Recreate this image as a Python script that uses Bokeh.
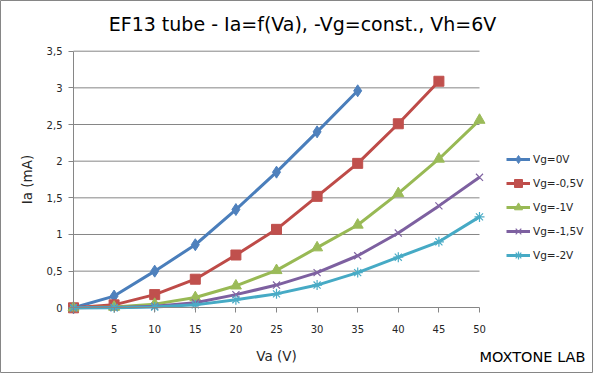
from bokeh.plotting import figure
from bokeh.models import Range1d, FixedTicker, Legend, LegendItem, Label
from bokeh.embed import file_html
from bokeh.resources import INLINE

# ---- data ----
va = [0, 5, 10, 15, 20, 25, 30, 35, 40, 45, 50]
ia_vg0 = [0, 0.16, 0.50, 0.86, 1.34, 1.85, 2.40, 2.96]
ia_vg05 = [0, 0.04, 0.18, 0.39, 0.72, 1.07, 1.52, 1.97, 2.51, 3.09]
ia_vg1 = [0, 0.01, 0.05, 0.14, 0.30, 0.51, 0.82, 1.13, 1.56, 2.03, 2.56]
ia_vg15 = [0, 0.005, 0.02, 0.07, 0.18, 0.31, 0.48, 0.71, 1.02, 1.39, 1.78]
ia_vg2 = [0, 0.0, 0.01, 0.04, 0.11, 0.19, 0.31, 0.48, 0.69, 0.90, 1.24]
series_names = ["Vg=0V", "Vg=-0,5V", "Vg=-1V", "Vg=-1,5V", "Vg=-2V"]

x_ticks = [0, 5, 10, 15, 20, 25, 30, 35, 40, 45, 50]
x_tick_labels = ["", "5", "10", "15", "20", "25", "30", "35", "40", "45", "50"]
y_ticks = [0, 0.5, 1, 1.5, 2, 2.5, 3, 3.5]
y_tick_labels = ["0", "0,5", "1", "1,5", "2", "2,5", "3", "3,5"]

title_text = "EF13 tube - Ia=f(Va), -Vg=const., Vh=6V"
x_title = "Va (V)"
y_title = "Ia (mA)"
credit = "MOXTONE LAB"

FONT = "DejaVu Sans"
GRID = "#868686"
TXT = "#262626"

W, H = 593, 373
# plot area in pixels: x 0..50 -> 73..479, y 0..3.5 -> 307.3..50.7
X0, X1 = 73.0, 479.0
Y0, Y1 = 307.3, 50.7
XPX = (X1 - X0) / 50.0
YPX = (Y0 - Y1) / 3.5

p = figure(width=W, height=H, output_backend="svg", toolbar_location=None, title=None,
           x_range=Range1d(-X0 / XPX, 50 + (W - X1) / XPX),
           y_range=Range1d(-(H - Y0) / YPX, 3.5 + Y1 / YPX),
           min_border_left=0, min_border_right=0, min_border_top=0, min_border_bottom=0)
p.outline_line_color = GRID
p.xgrid.visible = False
p.ygrid.visible = False

# horizontal gridlines from the tick list
gy = y_ticks[1:]
p.segment(x0=[x_ticks[0]] * len(gy), y0=gy, x1=[x_ticks[-1]] * len(gy), y1=gy,
          line_color=GRID, line_width=1)

for ax in (p.xaxis[0], p.yaxis[0]):
    ax.fixed_location = 0
    ax.axis_line_color = GRID
    ax.major_tick_line_color = GRID
    ax.minor_tick_line_color = None
    ax.major_tick_in = 0
    ax.major_tick_out = 5
    ax.major_label_text_font = FONT
    ax.major_label_text_font_size = "10px"
    ax.major_label_text_color = TXT
    ax.axis_label_text_font = FONT
    ax.axis_label_text_font_size = "13.5px"
    ax.axis_label_text_font_style = "normal"
    ax.axis_label_text_color = TXT

p.xaxis.ticker = FixedTicker(ticks=x_ticks)
p.xaxis.major_label_overrides = dict(zip(x_ticks, x_tick_labels))
p.xaxis.bounds = (x_ticks[0], x_ticks[-1])
p.xaxis.axis_label = x_title
p.xaxis.major_label_standoff = 12
p.xaxis.axis_label_standoff = 12

p.yaxis.ticker = FixedTicker(ticks=y_ticks)
p.yaxis.major_label_overrides = dict(zip(y_ticks, y_tick_labels))
p.yaxis.bounds = (y_ticks[0], y_ticks[-1])
p.yaxis.axis_label = y_title
p.yaxis.major_label_standoff = 6
p.yaxis.axis_label_standoff = 9

line_colors = ["#4A7EBB", "#BE4B48", "#98B954", "#7D60A0", "#46AAC5"]
mark_colors = ["#4F81BD", "#C0504D", "#9BBB59", "#8064A2", "#4BACC6"]
markers = ["diamond", "square", "triangle", "x", "asterisk"]
sizes = [12, 10, 11, 10, 10]
series = [ia_vg0, ia_vg05, ia_vg1, ia_vg15, ia_vg2]

items = []
for name, ys, lc, mc, mk, sz in zip(series_names, series, line_colors, mark_colors,
                                     markers, sizes):
    xs = va[:len(ys)]
    lr = p.line(xs, ys, line_color=lc, line_width=3, line_join="round")
    if mk in ("x", "asterisk"):
        sr = p.scatter(xs, ys, marker=mk, size=sz, line_color=mc, line_width=1.2)
    else:
        sr = p.scatter(xs, ys, marker=mk, size=sz, fill_color=mc, line_color=mc)
    items.append(LegendItem(label=name, renderers=[lr, sr]))

legend = Legend(items=items, location=(506, 108), orientation="vertical",
                glyph_width=24, glyph_height=20, label_height=20, spacing=4,
                padding=0, margin=0, border_line_color=None, background_fill_alpha=0,
                label_text_font=FONT, label_text_font_size="10.5px",
                label_text_color=TXT, label_standoff=3)
p.add_layout(legend)

p.add_layout(Label(x=302, y=H - 23.5, x_units="screen", y_units="screen", text=title_text,
                   text_font=FONT, text_font_size="19px", text_color="black",
                   text_align="center", text_baseline="middle"))
p.add_layout(Label(x=532, y=H - 356, x_units="screen", y_units="screen", text=credit,
                   text_font=FONT, text_font_size="14.5px", text_color="black",
                   text_align="center", text_baseline="middle"))

open("out.html", "w").write(file_html(p, INLINE))
